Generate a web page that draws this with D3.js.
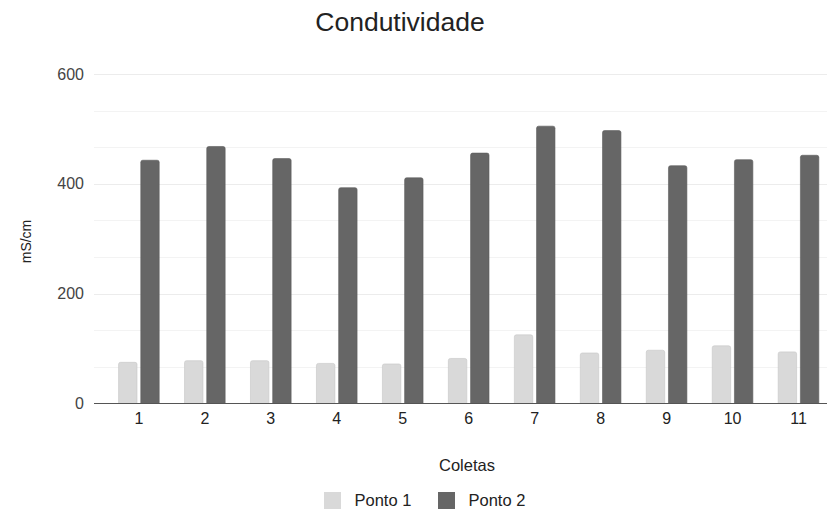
<!DOCTYPE html>
<html>
<head>
<meta charset="utf-8">
<script src="https://cdn.jsdelivr.net/npm/d3@7"></script>
<style>
  html, body { margin: 0; padding: 0; background: #fff; }
  svg { display: block; font-family: "Liberation Sans", Arial, sans-serif; }
</style>
</head>
<body>
<svg id="chart" width="827" height="512"></svg>
<script>
// Condutividade por coleta, dois pontos de amostragem
const coletas = ["1", "2", "3", "4", "5", "6", "7", "8", "9", "10", "11"];
const series = ["Ponto 1", "Ponto 2"];
const ponto1 = [75, 78, 78, 73, 72, 82, 125, 92, 97, 105, 94];
const ponto2 = [443, 468, 446, 393, 411, 456, 505, 497, 433, 444, 452];
const yTicks = [0, 200, 400, 600];
const colors = ["#d9d9d9", "#666666"];

const svg = d3.select("#chart");
const W = 827, H = 512;
const plot = { left: 94, right: 843.4, top: 74, bottom: 403.5 };

const y = d3.scaleLinear().domain([0, 600]).range([plot.bottom, plot.top]);
const x0 = d3.scaleBand().domain(coletas).range([plot.left, plot.right])
  .paddingInner(0.384).paddingOuter(0.3725);
const x1 = d3.scaleBand().domain(series).range([0, x0.bandwidth()]).paddingInner(0.17);

// minor gridlines (every third of a major step)
const minor = d3.range(1, 9).map(i => i * 200 / 3).filter(v => v % 200 !== 0 && v < 600);
svg.append("g").selectAll("line").data(minor).join("line")
  .attr("x1", plot.left).attr("x2", W)
  .attr("y1", d => Math.round(y(d)) + 0.5).attr("y2", d => Math.round(y(d)) + 0.5)
  .attr("stroke", "#f3f3f3").attr("stroke-width", 1);

// major gridlines
svg.append("g").selectAll("line").data(yTicks.filter(d => d > 0)).join("line")
  .attr("x1", plot.left).attr("x2", W)
  .attr("y1", d => Math.round(y(d)) + 0.5).attr("y2", d => Math.round(y(d)) + 0.5)
  .attr("stroke", "#ececec").attr("stroke-width", 1);

// y axis labels
const yAxis = d3.axisLeft(y).tickValues(yTicks).tickSize(0).tickPadding(0);
const gy = svg.append("g").attr("transform", `translate(${plot.left - 10},0)`).call(yAxis);
gy.select(".domain").remove();
gy.selectAll("text").attr("fill", "#444").style("font-size", "16px")
  .style("font-family", "'Liberation Sans', Arial, sans-serif");

// bars, rounded at the top
function topRounded(xp, yp, w, h, r) {
  r = Math.min(r, h, w / 2);
  return `M${xp},${yp + h}V${yp + r}Q${xp},${yp} ${xp + r},${yp}H${xp + w - r}Q${xp + w},${yp} ${xp + w},${yp + r}V${yp + h}Z`;
}
const rows = coletas.map((c, i) => ({ c, vals: [ponto1[i], ponto2[i]] }));
const groups = svg.append("g").selectAll("g").data(rows).join("g")
  .attr("transform", d => `translate(${x0(d.c)},0)`);
groups.selectAll("path").data(d => d.vals.map((v, k) => ({ s: series[k], v, k }))).join("path")
  .attr("d", d => topRounded(x1(d.s), y(d.v), x1.bandwidth(), y(0) - y(d.v), 2))
  .attr("fill", d => colors[d.k])
  .attr("stroke", d => d3.color(colors[d.k]).darker(0.25))
  .attr("stroke-width", 0.6);

// baseline
svg.append("line")
  .attr("x1", plot.left).attr("x2", W)
  .attr("y1", y(0)).attr("y2", y(0))
  .attr("stroke", "#555").attr("stroke-width", 1.2);

// x axis labels
const xAxis = d3.axisBottom(x0).tickSize(0).tickPadding(0);
const gx = svg.append("g").attr("transform", `translate(0,${plot.bottom + 9})`).call(xAxis);
gx.select(".domain").remove();
gx.selectAll("text").attr("fill", "#222").style("font-size", "16px")
  .style("font-family", "'Liberation Sans', Arial, sans-serif");

// title
svg.append("text").attr("x", 400).attr("y", 31).attr("text-anchor", "middle")
  .attr("fill", "#222").style("font-size", "26.5px").text("Condutividade");

// axis titles
svg.append("text").attr("x", 467).attr("y", 470.5).attr("text-anchor", "middle")
  .attr("fill", "#222").style("font-size", "16.5px").text("Coletas");
svg.append("text").attr("transform", "translate(30.5,241.5) rotate(-90)")
  .attr("text-anchor", "middle").attr("fill", "#222").style("font-size", "14px").text("mS/cm");

// legend
const legendX = [324, 438];
const leg = svg.append("g").selectAll("g").data(series).join("g")
  .attr("transform", (d, i) => `translate(${legendX[i]},492)`);
leg.append("rect").attr("width", 17).attr("height", 17).attr("fill", (d, i) => colors[i]);
leg.append("text").attr("x", 30.5).attr("y", 14).attr("fill", "#222")
  .style("font-size", "16.5px").text(d => d);
</script>
</body>
</html>
